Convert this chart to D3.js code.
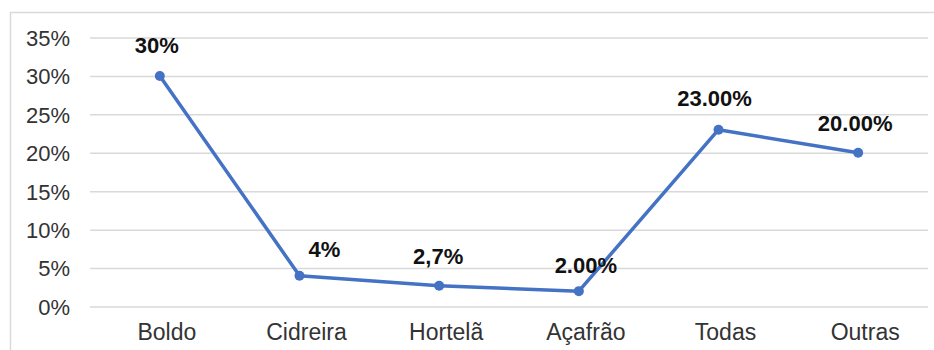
<!DOCTYPE html>
<html>
<head>
<meta charset="utf-8">
<script src="https://cdn.jsdelivr.net/npm/d3@7"></script>
<style>
  body { margin: 0; background: #fff; }
  text { font-family: "Liberation Sans", Arial, sans-serif; }
</style>
</head>
<body>
<svg id="chart"></svg>
<script>
// values
var categories = ["Boldo", "Cidreira", "Hortelã", "Açafrão", "Todas", "Outras"]
var values = [30, 4, 2.7, 2, 23, 20]
var valueLabels = ["30%", "4%", "2,7%", "2.00%", "23.00%", "20.00%"]
var yTicks = [0, 5, 10, 15, 20, 25, 30, 35]

// where each data label sits relative to its point (dx, dy)
var labelNudge = [[-3, -23], [25, -19], [-1, -22], [7, -18], [-4, -24], [-3, -22]]

var W = 934, H = 350
var plotLeft = 90, plotRight = 928, plotTop = 37.5, plotBottom = 306.5

var svg = d3.select("#chart").attr("width", W).attr("height", H)

// frame of the original chart, cropped on right and bottom
svg.append("path")
  .attr("d", `M10.5,${H} V12.5 H${W}`)
  .attr("fill", "none")
  .attr("stroke", "#d9d9d9")
  .attr("stroke-width", 1.5)

var x = d3.scaleBand().domain(categories).range([plotLeft, plotRight]).padding(0)
var y = d3.scaleLinear().domain([0, 35]).range([plotBottom, plotTop])
var cx = d => x(d) + x.bandwidth() / 2

var yAxis = svg.append("g")
  .attr("transform", `translate(${plotLeft},0)`)
  .call(d3.axisLeft(y).tickValues(yTicks).tickSize(-(plotRight - plotLeft)).tickPadding(20).tickFormat(d => d + "%"))
yAxis.select(".domain").remove()
yAxis.selectAll(".tick line").attr("stroke", "#d9d9d9").attr("stroke-width", 1.5)
yAxis.selectAll(".tick text")
  .attr("font-size", 22)
  .attr("fill", "#333")
  .attr("dy", "0.36em")

var xAxis = svg.append("g")
  .attr("transform", `translate(0,${plotBottom})`)
  .call(d3.axisBottom(x).tickSize(0))
xAxis.select(".domain").remove()
xAxis.selectAll(".tick text")
  .attr("font-size", 23)
  .attr("fill", "#333")
  .attr("y", 33)
  .attr("dy", null)
  .attr("dx", 7)

var line = d3.line()
  .x((d, i) => cx(categories[i]))
  .y(d => y(d))

svg.append("path")
  .datum(values)
  .attr("d", line)
  .attr("fill", "none")
  .attr("stroke", "#4472c4")
  .attr("stroke-width", 3.5)
  .attr("stroke-linejoin", "round")

svg.selectAll(".pt")
  .data(values)
  .join("circle")
  .attr("class", "pt")
  .attr("cx", (d, i) => cx(categories[i]))
  .attr("cy", d => y(d))
  .attr("r", 5)
  .attr("fill", "#4472c4")

svg.selectAll(".vl")
  .data(values)
  .join("text")
  .attr("class", "vl")
  .attr("x", (d, i) => cx(categories[i]) + labelNudge[i][0])
  .attr("y", (d, i) => y(d) + labelNudge[i][1])
  .attr("text-anchor", "middle")
  .attr("font-size", 22)
  .attr("font-weight", "bold")
  .attr("fill", "#111")
  .text((d, i) => valueLabels[i])
</script>
</body>
</html>
